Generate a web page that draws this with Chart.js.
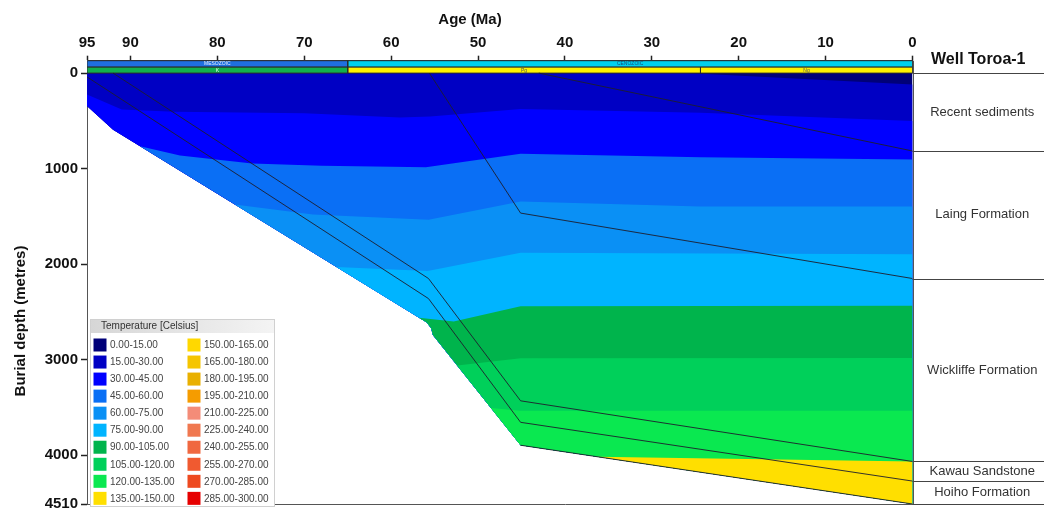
<!DOCTYPE html>
<html>
<head>
<meta charset="utf-8">
<title>Well Toroa-1 burial history</title>
<script src="https://cdn.jsdelivr.net/npm/chart.js@4.4.0/dist/chart.umd.min.js"></script>
<style>
  html, body { margin: 0; padding: 0; background: #fff; }
  canvas { display: block; }
</style>
</head>
<body>
<canvas id="burial" width="1044" height="516"></canvas>
<script>
// ---- axis ticks ----
const ageTicks = [95, 90, 80, 70, 60, 50, 40, 30, 20, 10, 0];
const depthTicks = [0, 1000, 2000, 3000, 4000, 4510];

// ---- basin floor (age Ma, depth m) ----
const basement = [[95, 345], [92, 594], [88.9, 765], [55.9, 2610], [55.4, 2670], [55.2, 2740], [45.1, 3895], [0, 4510]];
const surface = [[95, 0], [0, 0]];

// ---- isotherms (age Ma, depth m), each starting on the basin floor or left edge ----
const iso15 = [[95, 0], [26, 0], [0, 120]];
const iso30 = [[95, 225], [91, 380], [85, 405], [70, 420], [59, 465], [55.5, 455], [45.1, 375], [24.4, 415], [0, 500]];
const iso45 = [[88.9, 765], [84.3, 862], [76, 945], [68, 970], [56, 985], [45.1, 845], [24.4, 880], [0, 905]];
const iso60 = [[78, 1374], [69, 1480], [55.7, 1535], [45.1, 1345], [24.4, 1395], [0, 1396]];
const iso75 = [[66.3, 2029], [55.8, 2070], [45.1, 1880], [0, 1895]];
const iso90 = [[56.8, 2560], [52.8, 2600], [45.1, 2440], [0, 2435]];
const iso105 = [[52.4, 3060], [45.1, 2985], [0, 2982]];
const iso120 = [[48.5, 3506], [45.1, 3533], [0, 3533]];
const iso135 = [[36.3, 4015], [0, 4065]];

// ---- horizons (age Ma, depth m) ----
const hRecent = [[43, 0], [0, 815]];
const hLaing = [[55.6, 0], [45.1, 1465], [0, 2150]];
const hWickliffe = [[92, 0], [55.7, 2150], [45.1, 3430], [0, 4065]];
const hKawau = [[95, 40], [55.7, 2360], [45.1, 3655], [0, 4270]];

// ---- present-day formation column ----
const formations = ['Recent sediments', 'Laing Formation', 'Wickliffe Formation', 'Kawau Sandstone', 'Hoiho Formation'];
const formationTops = [0, 815, 2150, 4065, 4270, 4510];

// ---- stratigraphic time bars ----
const eraNames = ['MESOZOIC', 'CENOZOIC'];
const eraSpans = [[95, 65], [65, 0]];
const periodNames = ['K', 'Pg', 'Ng'];
const periodSpans = [[95, 65], [65, 24.4], [24.4, 0]];

// ---- temperature classes ----
const tempClasses = ['0.00-15.00', '15.00-30.00', '30.00-45.00', '45.00-60.00', '60.00-75.00',
  '75.00-90.00', '90.00-105.00', '105.00-120.00', '120.00-135.00', '135.00-150.00',
  '150.00-165.00', '165.00-180.00', '180.00-195.00', '195.00-210.00', '210.00-225.00',
  '225.00-240.00', '240.00-255.00', '255.00-270.00', '270.00-285.00', '285.00-300.00'];
const tempColors = ['#000078', '#0000c4', '#0000ff', '#0a6ff5', '#0a90f5',
  '#00b4ff', '#00b44c', '#00d05a', '#0ae850', '#ffdf00',
  '#ffd800', '#f5c500', '#e9b000', '#f59c00', '#f48c78',
  '#f07850', '#f06840', '#f05a30', '#ee4a20', '#e60000'];

const FONT = '"Liberation Sans", Arial, sans-serif';
const BAR_TOP = -130, BAR_MID = -65;

const toPts = arr => arr.map(([x, y]) => ({ x, y }));

// region under an isotherm: the isotherm left->right, then back along the basin floor
function bandShape(top) {
  const startAge = top[0][0];
  const floor = basement.filter(p => p[0] <= startAge).slice().sort((a, b) => a[0] - b[0]);
  return toPts(top.concat(floor));
}

const bandTops = [surface, iso15, iso30, iso45, iso60, iso75, iso90, iso105, iso120, iso135];
const datasets = [];

bandTops.forEach((top, k) => {
  datasets.push({
    data: bandShape(top), fill: 'shape', backgroundColor: tempColors[k],
    borderWidth: 0, borderColor: 'rgba(0,0,0,0)', pointRadius: 0, order: 100 - k
  });
});

function rect(a0, a1, d0, d1) {
  return toPts([[a0, d0], [a1, d0], [a1, d1], [a0, d1], [a0, d0]]);
}
const eraColors = ['#1f6fe0', '#00d0ee'];
const periodColors = ['#12b04e', '#fff200', '#fff200'];
eraSpans.forEach((s, i) => datasets.push({
  data: rect(s[0], s[1], BAR_TOP, BAR_MID), fill: 'shape', backgroundColor: eraColors[i],
  borderColor: '#2b2b2b', borderWidth: 1, pointRadius: 0, order: 5
}));
periodSpans.forEach((s, i) => datasets.push({
  data: rect(s[0], s[1], BAR_MID, 0), fill: 'shape', backgroundColor: periodColors[i],
  borderColor: '#2b2b2b', borderWidth: 1, pointRadius: 0, order: 5
}));

[hRecent, hLaing, hWickliffe, hKawau, basement.filter(p => p[0] <= 45.1)].forEach(h => datasets.push({
  data: toPts(h), fill: false, borderColor: 'rgba(30,30,45,0.9)', borderWidth: 1,
  pointRadius: 0, order: 0
}));

const decor = {
  id: 'decor',
  afterDraw(chart) {
    const { ctx, chartArea: ca, scales: { x, y } } = chart;
    const W = chart.width;
    ctx.save();

    // frame lines
    ctx.strokeStyle = '#555';
    ctx.lineWidth = 1;
    ctx.beginPath();
    ctx.moveTo(ca.left, Math.round(ca.bottom) + 0.5);
    ctx.lineTo(W, Math.round(ca.bottom) + 0.5);
    ctx.moveTo(Math.round(ca.right) + 0.5, ca.top);
    ctx.lineTo(Math.round(ca.right) + 0.5, ca.bottom);
    ctx.stroke();

    // formation column
    ctx.strokeStyle = '#444';
    formationTops.forEach(d => {
      const py = Math.round(y.getPixelForValue(d)) + 0.5;
      ctx.beginPath();
      ctx.moveTo(ca.right, py);
      ctx.lineTo(W, py);
      ctx.stroke();
    });
    ctx.fillStyle = '#333';
    ctx.font = '13px ' + FONT;
    ctx.textAlign = 'center';
    ctx.textBaseline = 'middle';
    const colX = (ca.right + W) / 2 + 4;
    formations.forEach((name, i) => {
      const py = (y.getPixelForValue(formationTops[i]) + y.getPixelForValue(formationTops[i + 1])) / 2;
      ctx.fillText(name, colX, py);
    });
    ctx.fillStyle = '#111';
    ctx.font = 'bold 16px ' + FONT;
    ctx.fillText('Well Toroa-1', (ca.right + W) / 2, 60);

    // axis titles
    ctx.font = 'bold 15px ' + FONT;
    ctx.fillText('Age (Ma)', 470, 20);
    ctx.save();
    ctx.translate(21, 321);
    ctx.rotate(-Math.PI / 2);
    ctx.fillText('Burial depth (metres)', 0, 0);
    ctx.restore();

    // tiny labels on time bars
    ctx.font = '5px ' + FONT;
    eraSpans.forEach((s, i) => {
      ctx.fillStyle = i === 0 ? '#e8f0ff' : '#1a4a7a';
      ctx.fillText(eraNames[i], (x.getPixelForValue(s[0]) + x.getPixelForValue(s[1])) / 2,
        (y.getPixelForValue(BAR_TOP) + y.getPixelForValue(BAR_MID)) / 2);
    });
    periodSpans.forEach((s, i) => {
      ctx.fillStyle = i === 0 ? '#e8ffe8' : '#555';
      ctx.fillText(periodNames[i], (x.getPixelForValue(s[0]) + x.getPixelForValue(s[1])) / 2,
        (y.getPixelForValue(BAR_MID) + y.getPixelForValue(0)) / 2 + 1);
    });

    // temperature legend
    const L = 90, T = 319, R = 275, B = 507;
    ctx.fillStyle = '#ffffff';
    ctx.fillRect(L, T, R - L, B - T);
    const g = ctx.createLinearGradient(L, 0, R, 0);
    g.addColorStop(0, '#d6d6d6');
    g.addColorStop(1, '#f4f4f4');
    ctx.fillStyle = g;
    ctx.fillRect(L, T, R - L, 14);
    ctx.strokeStyle = '#d0d0d0';
    ctx.strokeRect(L + 0.5, T + 0.5, R - L - 1, B - T - 1);
    ctx.fillStyle = '#333';
    ctx.font = '10px ' + FONT;
    ctx.textAlign = 'left';
    ctx.fillText('Temperature [Celsius]', 101, T + 7.5);
    tempClasses.forEach((lab, i) => {
      const col = Math.floor(i / 10), row = i % 10;
      const cy = 345 + row * 17.04;
      const sx = col === 0 ? 93.5 : 187.5;
      const tx = col === 0 ? 110 : 204;
      ctx.fillStyle = tempColors[i];
      ctx.fillRect(sx, cy - 6.5, 13, 13);
      ctx.fillStyle = '#444';
      ctx.fillText(lab, tx, cy + 0.5);
    });

    ctx.restore();
  }
};

new Chart(document.getElementById('burial'), {
  type: 'line',
  data: { datasets },
  options: {
    responsive: false,
    devicePixelRatio: 1,
    animation: false,
    events: [],
    layout: { padding: { left: 0, top: 0, right: 131.5, bottom: 6.5 } },
    elements: { line: { tension: 0 } },
    plugins: { legend: { display: false }, tooltip: { enabled: false } },
    scales: {
      x: {
        type: 'linear', position: 'top', reverse: true, min: 0, max: 95,
        afterBuildTicks: s => { s.ticks = ageTicks.map(v => ({ value: v })); },
        afterFit: s => { s.height = 60.7; },
        grid: { drawOnChartArea: false, drawTicks: true, tickLength: 5, color: '#222', tickWidth: 1.5 },
        border: { display: true, color: '#333', width: 1 },
        ticks: { autoSkip: false, maxRotation: 0, padding: 4, color: '#111', callback: v => String(v),
          font: { family: FONT, size: 15, weight: 'bold' } }
      },
      y: {
        type: 'linear', reverse: true, min: BAR_TOP, max: 4510,
        afterBuildTicks: s => { s.ticks = depthTicks.map(v => ({ value: v })); },
        afterFit: s => { s.width = 87; },
        grid: { drawOnChartArea: false, drawTicks: true, tickLength: 6, color: '#222', tickWidth: 1.5 },
        border: { display: true, color: '#555', width: 1 },
        ticks: { padding: 3, color: '#111', callback: v => String(v),
          font: { family: FONT, size: 15, weight: 'bold' } }
      }
    }
  },
  plugins: [decor]
});
</script>
</body>
</html>
